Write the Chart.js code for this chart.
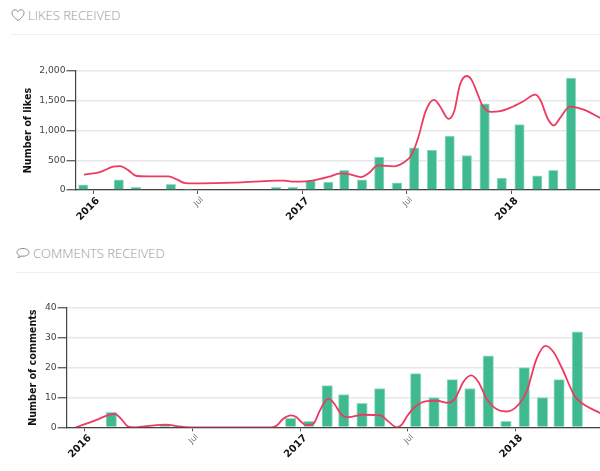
<!DOCTYPE html>
<html>
<head>
<meta charset="utf-8">
<script src="https://cdn.jsdelivr.net/npm/chart.js@4"></script>
<style>
  html, body { margin: 0; padding: 0; background: #fff; overflow: hidden; width: 600px; height: 471px; }
  canvas { position: absolute; left: 0; }
  .head { position: absolute; font: 300 13px "Open Sans", sans-serif; color: #999; white-space: nowrap; }
  .head svg { position: absolute; left: 0; top: 2px; }
  .rule { position: absolute; right: 0; height: 1px; background: #eee; }
</style>
</head>
<body>
<div class="head" style="left:11px;top:6px;padding-left:17px">
  <svg width="14" height="14" viewBox="0 0 14 14" fill="none" stroke="#8a8a8a" stroke-width="1">
    <path d="M7 12.5 C3 9.5 1 7.5 1 4.8 C1 2.8 2.5 1.8 3.9 1.8 C5.2 1.8 6.4 2.6 7 3.8 C7.6 2.6 8.8 1.8 10.1 1.8 C11.5 1.8 13 2.8 13 4.8 C13 7.5 11 9.5 7 12.5 Z"/>
  </svg>LIKES RECEIVED</div>
<div class="rule" style="left:11px;top:34px"></div>
<canvas id="likes" width="600" height="195" style="top:40px"></canvas>

<div class="head" style="left:16px;top:244px;padding-left:17px">
  <svg width="14" height="14" viewBox="0 0 14 14" fill="none" stroke="#8a8a8a" stroke-width="1">
    <path d="M7 2.5 C10.5 2.5 13 4.2 13 6.4 C13 8.6 10.5 10.2 7 10.2 C6.4 10.2 5.8 10.2 5.3 10 C4.4 11 3.2 11.6 1.9 11.7 C2.8 11 3.3 10.2 3.4 9.4 C1.9 8.6 1 7.6 1 6.4 C1 4.2 3.5 2.5 7 2.5 Z"/>
  </svg>COMMENTS RECEIVED</div>
<div class="rule" style="left:16px;top:272px"></div>
<canvas id="comments" width="600" height="191" style="top:280px"></canvas>

<script>
const FONT = "'DejaVu Sans', Verdana, sans-serif";

// monthly totals, [date, value]
const likesBars = [
  ["2015-12-15", 85], ["2016-02-15", 170], ["2016-03-16", 45], ["2016-05-16", 95], ["2016-06-15", 17],
  ["2016-11-16", 45], ["2016-12-15", 45], ["2017-01-15", 160], ["2017-02-15", 135], ["2017-03-15", 330],
  ["2017-04-15", 170], ["2017-05-15", 553], ["2017-06-15", 120], ["2017-07-15", 710], ["2017-08-15", 670],
  ["2017-09-15", 905], ["2017-10-15", 580], ["2017-11-15", 1450], ["2017-12-15", 200], ["2018-01-15", 1100],
  ["2018-02-15", 240], ["2018-03-15", 330], ["2018-04-15", 1880]
];
const commentsBars = [
  ["2016-02-15", 5], ["2016-05-16", 1], ["2016-12-15", 3], ["2017-01-15", 2], ["2017-02-15", 14],
  ["2017-03-15", 11], ["2017-04-15", 8], ["2017-05-15", 13], ["2017-07-15", 18], ["2017-08-15", 10],
  ["2017-09-15", 16], ["2017-10-15", 13], ["2017-11-15", 24], ["2017-12-15", 2], ["2018-01-15", 20],
  ["2018-02-15", 10], ["2018-03-15", 16], ["2018-04-15", 32]
];

// trend lines, [days since 2016-01-01, value]
const likesLine = [
  [-16,257],[12,302],[35,391],[47,402],[62,330],[76,235],[94,229],[132,229],[146,179],[161,117],[187,112],
  [245,123],[280,140],[321,156],[335,156],[347,140],[362,140],[385,162],[412,223],[432,279],[449,262],[468,218],
  [481,279],[498,413],[525,397],[542,458],[557,598],[568,877],[580,1296],[589,1475],[596,1514],[606,1408],
  [621,1196],[631,1324],[641,1771],[653,1916],[661,1855],[670,1659],[681,1408],[696,1313],[711,1324],[728,1380],
  [752,1492],[772,1603],[781,1520],[795,1184],[805,1084],[816,1212],[833,1402],[857,1352],[886,1212]
];
const commentsLine = [
  [-15,0],[20,2.5],[40,4.1],[51,4.5],[63,2.5],[74,0.2],[85,0],[105,0.4],[138,0.9],[156,0.4],[179,0],[252,0],
  [317,0],[325,0.5],[336,2.8],[350,4],[359,3.4],[365,2.2],[376,0.7],[388,1.3],[399,5.8],[413,9.6],[421,8.4],
  [436,4.1],[447,3.4],[472,4.2],[501,4],[515,1.9],[529,0],[537,0.8],[546,3.6],[560,6.9],[580,8.8],[597,8.9],
  [616,8.2],[628,9.7],[642,15.3],[655,17.4],[667,15.3],[681,9.7],[698,6.1],[715,5.3],[732,6.9],[749,12],[766,23],
  [781,27.3],[794,25.4],[809,19.8],[831,10.3],[845,7.8],[874,4.7]
];

const xLabels = { 0: "2016", 182: "Jul", 366: "2017", 547: "Jul", 731: "2018" };

function toDays(d) {
  return (Date.parse(d) - Date.UTC(2016, 0, 1)) / 86400000;
}

// "Jul" ticks are small and grey, year ticks bold
function isMinor(c) {
  return c.tick && (c.tick.value === 182 || c.tick.value === 547);
}

function buildChart(id, o) {
  new Chart(document.getElementById(id), {
    type: "bar",
    data: {
      datasets: [
        {
          type: "line",
          data: o.line.map(p => ({ x: p[0], y: p[1] })),
          borderColor: "#ee3a60",
          borderWidth: 1.8,
          pointRadius: 0,
          tension: 0.4,
          cubicInterpolationMode: "monotone",
          order: 1
        },
        {
          data: o.bars.map(b => ({ x: toDays(b[0]), y: b[1] })),
          backgroundColor: "#3fb98f",
          borderColor: "#9adcc5",
          borderWidth: { top: 1, left: 1, right: 1, bottom: 0 },
          barThickness: o.barWidth,
          order: 2
        }
      ]
    },
    options: {
      responsive: false,
      animation: false,
      devicePixelRatio: 1,
      layout: { padding: { left: o.padLeft, top: o.padTop, right: 0, bottom: 0 } },
      plugins: { legend: { display: false }, tooltip: { enabled: false } },
      scales: {
        x: {
          type: "linear",
          offset: false,
          min: -30.6,
          max: o.xMax,
          afterBuildTicks: axis => { axis.ticks = Object.keys(xLabels).map(v => ({ value: +v })); },
          afterFit: axis => { axis.height = o.xHeight; },
          grid: { offset: false, drawOnChartArea: false, tickColor: "#555", tickLength: 4 },
          border: { color: "#444", width: 1.2 },
          ticks: {
            autoSkip: false,
            minRotation: 45,
            maxRotation: 45,
            padding: 1,
            labelOffset: 5,
            callback: v => xLabels[v],
            color: c => isMinor(c) ? "#777" : "#111",
            font: c => isMinor(c)
              ? { family: FONT, size: 8 }
              : { family: FONT, size: 10, weight: "bold" }
          }
        },
        y: {
          min: 0,
          max: o.yMax,
          afterFit: axis => { axis.width = o.yWidth; },
          grid: { color: "#e8e8e8", lineWidth: 1.4, tickColor: "#666", tickLength: 9 },
          border: { color: "#444", width: 1.2 },
          title: {
            display: true,
            text: o.title,
            color: "#111",
            padding: { top: 0, bottom: 0 },
            font: { family: FONT, size: 9.6, weight: "bold" }
          },
          ticks: {
            stepSize: o.step,
            padding: 1,
            color: "#444",
            font: { family: FONT, size: 9.2 },
            callback: v => v.toLocaleString("en-US")
          }
        }
      }
    }
  });
}

buildChart("likes", {
  bars: likesBars, line: likesLine, title: "Number of likes",
  yMax: 2000, step: 500, xMax: 885.6, barWidth: 9.5,
  padLeft: 23, padTop: 31, yWidth: 52.5, xHeight: 45
});
buildChart("comments", {
  bars: commentsBars, line: commentsLine, title: "Number of comments",
  yMax: 40, step: 10, xMax: 873.4, barWidth: 10.5,
  padLeft: 28, padTop: 28, yWidth: 38.7, xHeight: 43.7
});
</script>
</body>
</html>
